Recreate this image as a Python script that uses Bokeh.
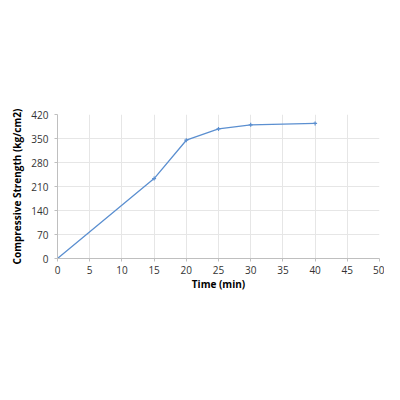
from bokeh.plotting import figure
from bokeh.embed import file_html
from bokeh.resources import INLINE
from bokeh.models import FixedTicker, Range1d

time_min = [0, 15, 20, 25, 30, 40]
strength = [0, 233, 345, 378, 390, 394]
x_ticks = [0, 5, 10, 15, 20, 25, 30, 35, 40, 45, 50]
y_ticks = [0, 70, 140, 210, 280, 350, 420]

p = figure(width=384, height=384, output_backend="svg", toolbar_location=None,
           x_range=Range1d(0, 50), y_range=Range1d(0, 420),
           min_border_left=57, min_border_right=5, min_border_top=114, min_border_bottom=126)
p.outline_line_color = None
p.line(time_min, strength, line_color="#5B8FD0", line_width=1.3)
p.scatter(time_min, strength, marker="cross", size=4, line_color="#5B8FD0", line_width=1.2)

p.xaxis.ticker = FixedTicker(ticks=x_ticks)
p.yaxis.ticker = FixedTicker(ticks=y_ticks)
for ax in (p.xaxis, p.yaxis):
    ax.axis_line_color = "#BFBFBF"
    ax.major_tick_line_color = "#BFBFBF"
    ax.major_tick_out = 3
    ax.major_tick_in = 0
    ax.minor_tick_line_color = None
    ax.major_label_text_font = "Open Sans"
    ax.major_label_text_font_size = "10px"
    ax.major_label_text_color = "#333333"
    ax.axis_label_text_font = "Open Sans"
    ax.axis_label_text_font_size = "10px"
    ax.axis_label_text_font_style = "bold"
    ax.axis_label_text_color = "#000000"
p.xaxis.axis_label = "Time (min)"
p.yaxis.axis_label = "Compressive Strength (kg/cm2)"
p.xaxis.axis_label_standoff = 0
p.yaxis.axis_label_standoff = 4
p.xaxis.major_label_standoff = 4
p.yaxis.major_label_standoff = 6
p.xgrid.grid_line_color = "#E6E6E6"
p.ygrid.grid_line_color = "#E6E6E6"

open("out.html", "w").write(file_html(p, INLINE))
